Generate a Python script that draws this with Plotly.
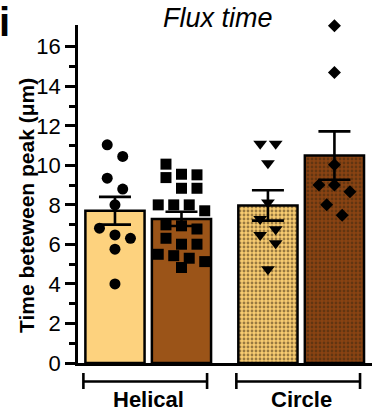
import numpy as np
import plotly.graph_objects as go

# ---------------- data ----------------
groups = ["Helical", "Circle"]
bar_names = ["Helical A", "Helical B", "Circle A", "Circle B"]
helical_a = [11.04, 10.45, 9.35, 8.8, 8.0, 6.82, 6.31, 6.48, 5.76, 4.0]
helical_b = [10.06, 9.52, 9.38, 9.55, 8.84, 8.84, 8.0, 8.0, 8.0, 7.7, 6.94, 6.78,
             6.99, 6.31, 6.01, 6.01, 5.5, 5.3, 5.43, 5.13, 4.83]
circle_a = [11.09, 11.09, 10.11, 8.12, 7.28, 6.48, 6.77, 6.06, 4.74]
circle_b = [17.06, 14.7, 10.03, 9.01, 9.01, 8.67, 8.0, 7.47]
series = [helical_a, helical_b, circle_a, circle_b]
y_ticks = [0, 2, 4, 6, 8, 10, 12, 14, 16]

# ---------------- styles ----------------
fill_colors = ["#FDD27E", "#9B5418", "#F7CB70", "#8A4312"]
patterned = [False, False, True, True]
symbols = ["circle", "square", "triangle-down", "diamond"]
msizes = [11, 11, 12, 10]
FONT = "Liberation Sans, Arial, sans-serif"

W, H = 377, 414
YMAX = 17.1
ML, MR, MB = 78, 5, 51
MT = 25
PW, PH = W - ML - MR, H - MT - MB

# category positions: two bars per group, gap between groups
gap = 0.3
centers = []
for gi in range(len(groups)):
    for bi in range(2):
        centers.append(gi * (2 + gap) + bi)
bar_w = 0.89
x_lo, x_hi = -0.556, 3.865
px_per_x = PW / (x_hi - x_lo)


def swarm(vals, center, spacing_px=15.5, bin_units=0.65):
    """GraphPad-like column scatter: cluster close values, spread them symmetrically."""
    order = sorted(range(len(vals)), key=lambda i: -vals[i])
    xs = [center] * len(vals)
    clusters = []
    for i in order:
        if clusters and vals[clusters[-1][0]] - vals[i] <= bin_units:
            clusters[-1].append(i)
        else:
            clusters.append([i])
    d = spacing_px / px_per_x
    for cl in clusters:
        n = len(cl)
        for k, i in enumerate(cl):
            xs[i] = center + (k - (n - 1) / 2) * d
    return xs


fig = go.Figure()

for i, vals in enumerate(series):
    arr = np.array(vals)
    mean = arr.mean()
    sem = arr.std(ddof=1) / np.sqrt(len(arr))
    marker = dict(color=fill_colors[i], line=dict(color="black", width=2.5))
    if patterned[i]:
        marker["pattern"] = dict(shape=".", fgcolor="#3a2810", bgcolor=fill_colors[i],
                                 size=4, solidity=0.4, fillmode="overlay")
    fig.add_trace(go.Bar(
        x=[centers[i]], y=[mean], width=bar_w, marker=marker, name=bar_names[i],
        error_y=dict(type="data", array=[sem], visible=True, color="black",
                     thickness=2.6, width=16),
        showlegend=False, hoverinfo="skip"))

for i, vals in enumerate(series):
    fig.add_trace(go.Scatter(
        x=swarm(vals, centers[i]), y=vals, mode="markers",
        marker=dict(symbol=symbols[i], size=msizes[i], color="black",
                    line=dict(width=0)),
        cliponaxis=False, showlegend=False, name=bar_names[i]))


def py(px_y):
    """pixel row -> paper y"""
    return (H - MB - px_y) / PH


def pxx(px_x):
    return (px_x - ML) / PW


shapes = []
annotations = []
for gi, g in enumerate(groups):
    left = centers[2 * gi] - bar_w / 2 - 0.03
    right = centers[2 * gi + 1] + bar_w / 2 - 0.06
    yl = py(381.5)
    shapes.append(dict(type="line", xref="x", yref="paper", x0=left, x1=right,
                       y0=yl, y1=yl, line=dict(color="black", width=2.6)))
    for xe in (left, right):
        shapes.append(dict(type="line", xref="x", yref="paper", x0=xe, x1=xe,
                           y0=py(373), y1=py(389), line=dict(color="black", width=2.6)))
    annotations.append(dict(text="<b>%s</b>" % g, xref="x", yref="paper",
                            x=(centers[2 * gi] + centers[2 * gi + 1]) / 2, y=py(399),
                            showarrow=False, xanchor="center", yanchor="middle",
                            font=dict(family=FONT, size=22, color="black")))

annotations.append(dict(text="<b>Time beteween peak (\u03bcm)</b>", xref="paper", yref="paper",
                        x=pxx(26), y=py(206), textangle=-90, showarrow=False,
                        xanchor="center", yanchor="middle",
                        font=dict(family=FONT, size=21, color="black")))
annotations.append(dict(text="<b>i</b>", xref="paper", yref="paper",
                        x=pxx(-3), y=py(22), showarrow=False,
                        xanchor="left", yanchor="middle",
                        font=dict(family=FONT, size=40, color="black")))
annotations.append(dict(text="<i>Flux time</i>", xref="paper", yref="paper",
                        x=pxx(218), y=py(18), showarrow=False,
                        xanchor="center", yanchor="middle",
                        font=dict(family=FONT, size=27, color="black")))

fig.update_layout(
    width=W, height=H, margin=dict(l=ML, r=MR, t=MT, b=MB, autoexpand=False),
    paper_bgcolor="white", plot_bgcolor="white",
    barmode="overlay",
    shapes=shapes, annotations=annotations,
    font=dict(family=FONT, color="black"),
    xaxis=dict(range=[x_lo, x_hi], showticklabels=False, ticks="", showgrid=False,
               zeroline=False, showline=True, linecolor="black", linewidth=2.6),
    yaxis=dict(range=[0, YMAX], tickvals=y_ticks, ticks="outside", ticklen=10,
               tickwidth=2.6, tickcolor="black", showgrid=False, zeroline=False,
               showline=True, linecolor="black", linewidth=2.6,
               tickfont=dict(family=FONT, size=22, color="black"),
               minor=dict(tickvals=[1, 3, 5, 7, 9, 11, 13, 15], ticks="outside",
                          ticklen=6, tickwidth=2.6, tickcolor="black", showgrid=False)),
)
fig.update_yaxes(tickprefix="<b>", ticksuffix="</b>")

fig.write_html("out.html", config={"displayModeBar": False},
               post_script="document.body.style.margin='0px';")
